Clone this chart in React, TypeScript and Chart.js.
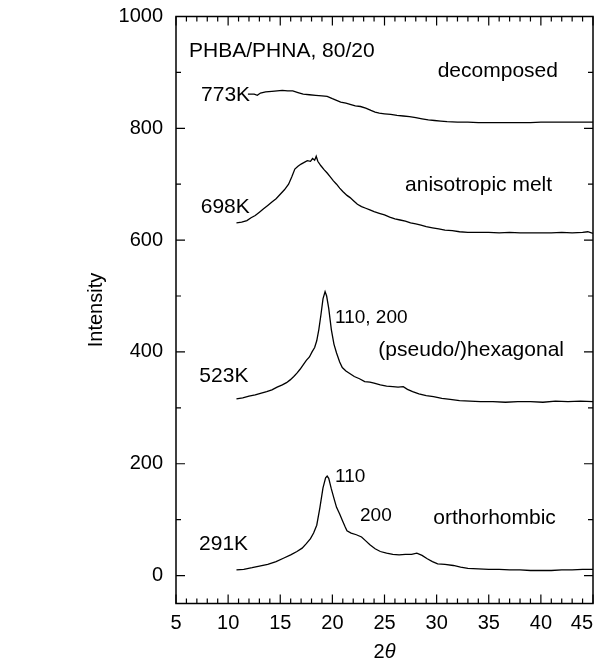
import React, { useEffect, useRef } from 'react';
import { Chart, registerables } from 'chart.js';

Chart.register(...registerables);

const FONT = '"Liberation Sans", Arial, Helvetica, sans-serif';

// Axis settings
const X_MIN = 5;
const X_MAX = 45;
const Y_MIN = -50;
const Y_MAX = 1000;
const xTickLabels = [5, 10, 15, 20, 25, 30, 35, 40, 45];
const yTickLabels = [0, 200, 400, 600, 800, 1000];
const xMinorTicks = [6, 7, 8, 9, 11, 12, 13, 14, 16, 17, 18, 19, 21, 22, 23, 24, 26, 27, 28, 29, 31, 32, 33, 34, 36, 37, 38, 39, 41, 42, 43, 44];
const yMinorTicks = [100, 300, 500, 700, 900];

// 291K (orthorhombic)
const x291 = [10.8, 11.5, 12.3, 13.0, 13.8, 14.6, 15.3, 16.0, 16.6, 17.1, 17.5, 17.9, 18.2, 18.5, 18.8, 19.1, 19.35, 19.5, 19.65, 19.9, 20.2, 20.4, 20.7, 20.95, 21.2, 21.4, 21.8, 22.3, 22.8, 23.2, 23.6, 24.1, 24.6, 25.2, 25.8, 26.4, 27.0, 27.6, 28.1, 28.6, 29.1, 29.6, 30.1, 30.8, 31.6, 32.3, 33.0, 34.0, 35.0, 36.0, 37.0, 38.0, 39.0, 40.0, 41.0, 42.0, 43.0, 44.0, 45.0];
const y291 = [10, 11, 14, 17, 20, 25, 31, 37, 43, 49, 57, 66, 76, 90, 121, 157, 175, 178, 174, 155, 135, 122, 110, 99, 88, 80, 76, 73, 69, 62, 55, 48, 43, 40, 38, 37, 38, 38, 40, 36, 30, 25, 21, 20, 18, 15, 13, 12, 11, 11, 10, 10, 9, 9, 9, 10, 10, 11, 11];

// 523K ((pseudo/)hexagonal)
const x523 = [10.8, 11.4, 12.0, 12.6, 13.1, 13.7, 14.2, 14.7, 15.2, 15.6, 15.95, 16.3, 16.6, 16.9, 17.2, 17.5, 17.8, 18.05, 18.3, 18.5, 18.7, 18.9, 19.1, 19.3, 19.45, 19.65, 19.9, 20.15, 20.4, 20.7, 20.95, 21.3, 21.7, 22.1, 22.6, 23.1, 23.6, 24.0, 24.6, 25.2, 25.8, 26.3, 26.8, 27.2, 27.7, 28.3, 29.0, 29.7, 30.5, 31.3, 32.2, 33.2, 34.2, 35.4, 36.6, 37.8, 39.0, 40.2, 41.4, 42.6, 43.8, 45.0];
const y523 = [316, 318, 321, 323, 326, 329, 332, 337, 341, 345, 350, 356, 362, 369, 377, 385, 391, 400, 408, 420, 440, 466, 495, 508, 500, 478, 440, 414, 398, 382, 372, 366, 361, 356, 352, 347, 346, 344, 341, 339, 338, 337, 338, 333, 329, 325, 322, 320, 317, 315, 313, 312, 311, 311, 310, 311, 311, 310, 312, 311, 312, 311];

// 698K (anisotropic melt)
const x698 = [10.8, 11.3, 11.8, 12.2, 12.6, 13.0, 13.4, 13.8, 14.2, 14.6, 15.0, 15.4, 15.8, 16.1, 16.4, 16.7, 17.0, 17.3, 17.6, 17.9, 18.1, 18.3, 18.45, 18.6, 18.9, 19.2, 19.5, 19.8, 20.1, 20.4, 20.7, 21.0, 21.4, 21.7, 22.0, 22.4, 22.8, 23.2, 23.6, 24.0, 24.5, 25.0, 25.5, 26.0, 26.5, 27.0, 27.5, 28.0, 28.5, 29.0, 29.6, 30.2, 30.8, 31.5, 32.2, 33.0, 34.0, 35.0, 36.0, 37.0, 38.0, 39.0, 40.0, 41.0, 42.0, 43.0, 44.0, 44.5, 45.0];
const y698 = [631, 632, 635, 640, 644, 650, 656, 662, 668, 674, 682, 690, 700, 713, 727, 732, 736, 739, 742, 741, 746, 743, 750, 741, 733, 726, 720, 713, 706, 700, 693, 687, 680, 676, 671, 664, 660, 657, 654, 651, 648, 645, 641, 638, 636, 634, 631, 629, 627, 624, 622, 620, 618, 617, 615, 614, 614, 614, 613, 614, 613, 613, 613, 613, 614, 613, 614, 615, 612];

// 773K (decomposed)
const x773 = [11.9, 12.5, 12.8, 13.1, 13.6, 14.2, 14.7, 15.2, 15.7, 16.2, 16.7, 17.2, 17.8, 18.4, 19.0, 19.5, 20.0, 20.4, 20.8, 21.3, 21.7, 22.2, 22.7, 23.2, 23.7, 24.1, 24.5, 25.0, 25.6, 26.2, 26.8, 27.4, 28.0, 28.6, 29.2, 29.8, 30.4, 31.0, 32.0, 33.0, 34.0, 35.0, 36.0, 37.0, 38.0, 39.0, 40.0, 41.0, 42.0, 43.0, 44.0, 45.0];
const y773 = [861, 861, 859, 863, 865, 866, 867, 868, 867, 867, 864, 861, 860, 859, 858, 857, 853, 850, 847, 845, 843, 840, 839, 836, 832, 829, 827, 826, 825, 823, 822, 821, 819, 817, 815, 814, 813, 812, 811, 811, 810, 810, 810, 810, 810, 810, 811, 811, 811, 811, 811, 811];

// Text annotations (data coordinates, left-aligned at baseline)
const annotations = [
  { text: 'PHBA/PHNA, 80/20', x: 6.25, y: 928, size: 21 },
  { text: 'decomposed', x: 30.1, y: 892, size: 21 },
  { text: '773K', x: 7.4, y: 848, size: 21 },
  { text: 'anisotropic melt', x: 26.97, y: 687, size: 21 },
  { text: '698K', x: 7.37, y: 648, size: 21 },
  { text: '110, 200', x: 20.25, y: 452, size: 19 },
  { text: '(pseudo/)hexagonal', x: 24.41, y: 392, size: 21 },
  { text: '523K', x: 7.24, y: 347, size: 21 },
  { text: '110', x: 20.25, y: 168, size: 19 },
  { text: '200', x: 22.65, y: 97, size: 19 },
  { text: 'orthorhombic', x: 29.68, y: 92, size: 21 },
  { text: '291K', x: 7.21, y: 46, size: 21 },
];

const toPoints = (xs: number[], ys: number[]) => xs.map((x, i) => ({ x, y: ys[i] }));

const framePlugin = {
  id: 'frameAndText',
  afterDraw(chart: any) {
    const { ctx, chartArea, scales } = chart;
    const xs = scales.x;
    const ys = scales.y;
    const { left, right, top, bottom } = chartArea;
    ctx.save();
    ctx.strokeStyle = '#000';
    ctx.lineWidth = 1.5;
    ctx.strokeRect(left, top, right - left, bottom - top);
    ctx.lineWidth = 1.2;
    const major = 9;
    const minor = 5;
    ctx.beginPath();
    const xTick = (v: number, len: number) => {
      const px = xs.getPixelForValue(v);
      ctx.moveTo(px, bottom);
      ctx.lineTo(px, bottom - len);
      ctx.moveTo(px, top);
      ctx.lineTo(px, top + len);
    };
    const yTick = (v: number, len: number) => {
      const py = ys.getPixelForValue(v);
      ctx.moveTo(left, py);
      ctx.lineTo(left + len, py);
      ctx.moveTo(right, py);
      ctx.lineTo(right - len, py);
    };
    xTickLabels.forEach((v) => xTick(v, major));
    xMinorTicks.forEach((v) => xTick(v, minor));
    yTickLabels.forEach((v) => yTick(v, major));
    yMinorTicks.forEach((v) => yTick(v, minor));
    ctx.stroke();

    ctx.fillStyle = '#000';
    ctx.textAlign = 'left';
    ctx.textBaseline = 'alphabetic';
    annotations.forEach((a) => {
      ctx.font = `${a.size}px ${FONT}`;
      ctx.fillText(a.text, xs.getPixelForValue(a.x), ys.getPixelForValue(a.y));
    });

    // x-axis title: 2θ with italic θ
    const cx = (left + right) / 2;
    const by = bottom + 54;
    ctx.font = `20px ${FONT}`;
    const w2 = ctx.measureText('2').width;
    ctx.font = `italic 20px ${FONT}`;
    const wt = ctx.measureText('θ').width;
    const start = cx - (w2 + wt) / 2;
    ctx.font = `20px ${FONT}`;
    ctx.fillText('2', start, by);
    ctx.font = `italic 20px ${FONT}`;
    ctx.fillText('θ', start + w2, by);
    ctx.restore();
  },
};

export default function App() {
  const canvasRef = useRef<HTMLCanvasElement | null>(null);

  useEffect(() => {
    if (!canvasRef.current) return;
    const lineStyle = {
      borderColor: '#000',
      borderWidth: 1.3,
      pointRadius: 0,
      fill: false,
      tension: 0,
    };
    const chart = new Chart(canvasRef.current, {
      type: 'line',
      data: {
        datasets: [
          { label: '291K', data: toPoints(x291, y291), ...lineStyle },
          { label: '523K', data: toPoints(x523, y523), ...lineStyle },
          { label: '698K', data: toPoints(x698, y698), ...lineStyle },
          { label: '773K', data: toPoints(x773, y773), ...lineStyle },
        ],
      },
      options: {
        responsive: false,
        animation: false,
        layout: { padding: { top: 16.5, right: 11, left: 0, bottom: 0 } },
        plugins: {
          legend: { display: false },
          tooltip: { enabled: false },
        },
        scales: {
          x: {
            type: 'linear',
            min: X_MIN,
            max: X_MAX,
            grid: { display: false, drawTicks: false },
            border: { display: false },
            afterBuildTicks: (axis: any) => {
              axis.ticks = xTickLabels.map((v) => ({ value: v }));
            },
            afterFit: (scale: any) => {
              scale.height = 56.5;
              scale.paddingLeft = 0;
              scale.paddingRight = 0;
            },
            ticks: {
              color: '#000',
              font: { family: FONT, size: 20 },
              padding: 8,
              autoSkip: false,
              maxRotation: 0,
              // the last label sits inside the figure edge, as in the original
              callback: (v: any) => (v === X_MAX ? `${v}\u2007\u2007` : String(v)),
            },
          },
          y: {
            type: 'linear',
            min: Y_MIN,
            max: Y_MAX,
            grid: { display: false, drawTicks: false },
            border: { display: false },
            afterBuildTicks: (axis: any) => {
              axis.ticks = yTickLabels.map((v) => ({ value: v }));
            },
            afterFit: (scale: any) => {
              scale.width = 176;
              scale.paddingTop = 0;
              scale.paddingBottom = 0;
            },
            title: {
              display: true,
              text: 'Intensity',
              color: '#000',
              font: { family: FONT, size: 20 },
              padding: { top: 84, bottom: 0 },
            },
            ticks: {
              color: '#000',
              font: { family: FONT, size: 20 },
              padding: 13,
              callback: (v: any) => String(v),
            },
          },
        },
      },
      plugins: [framePlugin],
    });
    return () => chart.destroy();
  }, []);

  return (
    <div style={{ position: 'fixed', left: 0, top: 0, width: 604, height: 660, background: '#fff' }}>
      <canvas ref={canvasRef} width={604} height={660} style={{ display: 'block' }} />
    </div>
  );
}
